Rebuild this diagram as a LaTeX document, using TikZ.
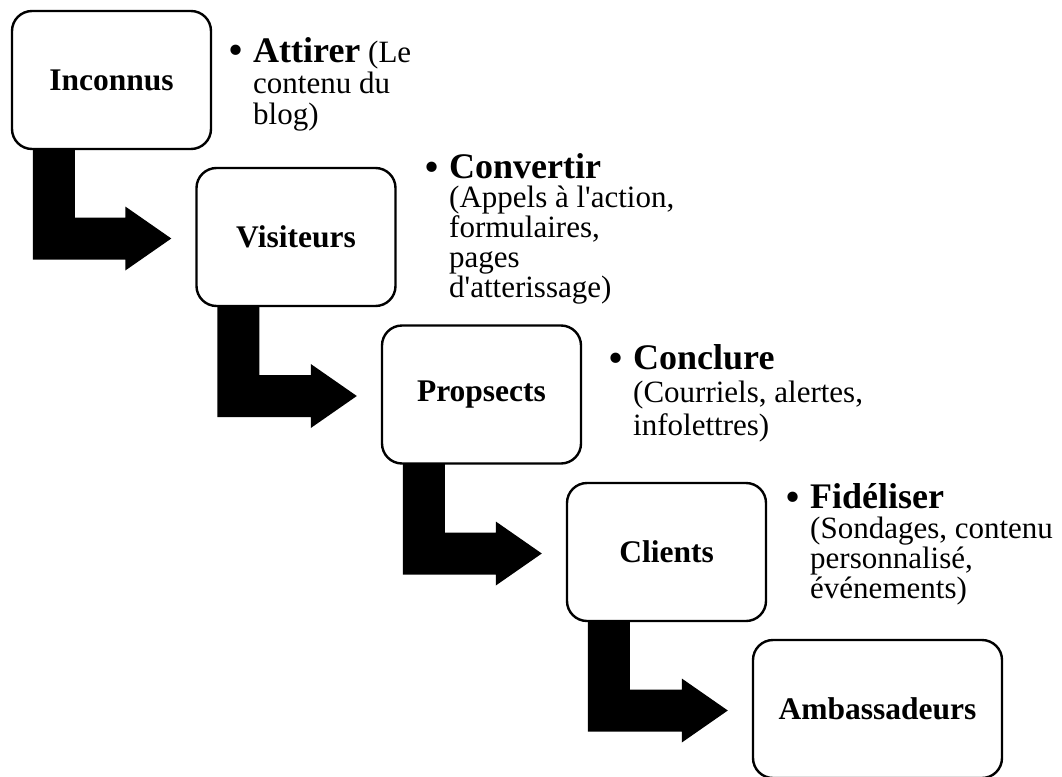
\documentclass[tikz,border=0pt]{standalone}
\usepackage{fontspec}
\setmainfont{Liberation Serif}
\usetikzlibrary{calc}

% bold heading of a bullet item, with the bullet hanging in the margin
\newcommand\headword[1]{\llap{\raisebox{-3pt}{\fontsize{43}{43}\selectfont\textbullet}\hspace{10pt}}{\fontsize{36}{36}\selectfont\bfseries #1}}

% thick black elbow arrow: down from the bottom of #1, then right into #2
\newcommand\bentarrow[2]{%
  \fill let \p1=(#1.south west), \p2=(#2.west) in
    (\x1+22pt,\y1+1pt) -- (\x1+64pt,\y1+1pt) -- (\x1+64pt,\y2+19.5pt)
    -- (\x2-70pt,\y2+19.5pt) -- (\x2-70pt,\y2+30.5pt) -- (\x2-24pt,\y2-1.5pt)
    -- (\x2-70pt,\y2-33.5pt) -- (\x2-70pt,\y2-22.5pt) -- (\x1+22pt,\y2-22.5pt) -- cycle;}

\begin{document}
\begin{tikzpicture}[x=1pt,y=-1pt,
  stage/.style={draw, line width=2.4pt, rounded corners=20pt, fill=white,
    minimum width=199pt, minimum height=138pt, inner sep=0pt,
    font=\fontsize{31.5}{36}\selectfont\bfseries},
  note/.style={anchor=base west, align=left, inner sep=0pt,
    font=\fontsize{31}{#1}\selectfont},
]
\useasboundingbox (0,0) rectangle (1062,776);
\clip (0,0) rectangle (1062,776);

% funnel stages
\node[stage] (inc) at (111.5,80) {Inconnus};
\node[stage] (vis) at (296,237) {Visiteurs};
\node[stage] (pro) at (481.5,394.5) {Propsects};
\node[stage] (cli) at (666.5,552) {Clients};
\node[stage, minimum width=249pt] (amb) at (877.5,709) {Ambassadeurs};

% transitions
\bentarrow{inc}{vis}
\bentarrow{vis}{pro}
\bentarrow{pro}{cli}
\bentarrow{cli}{amb}

% actions for each step (each node sits on the baseline of its last line)
\node[note=31] (t1) at (253,124) {\headword{Attirer} (Le\\contenu du\\blog)};
\node[note=29.75] (t2) at (449,297) {\headword{Convertir}\\(Appels à l\textquotesingle action,\\formulaires,\\pages\\d\textquotesingle atterissage)};
\node[note=33] (t3) at (633,435) {\headword{Conclure}\\(Courriels, alertes,\\infolettres)};
\node[note=30] (t4) at (810,598) {\headword{Fidéliser}\\(Sondages, contenu\\personnalisé,\\événements)};
\end{tikzpicture}
\end{document}
